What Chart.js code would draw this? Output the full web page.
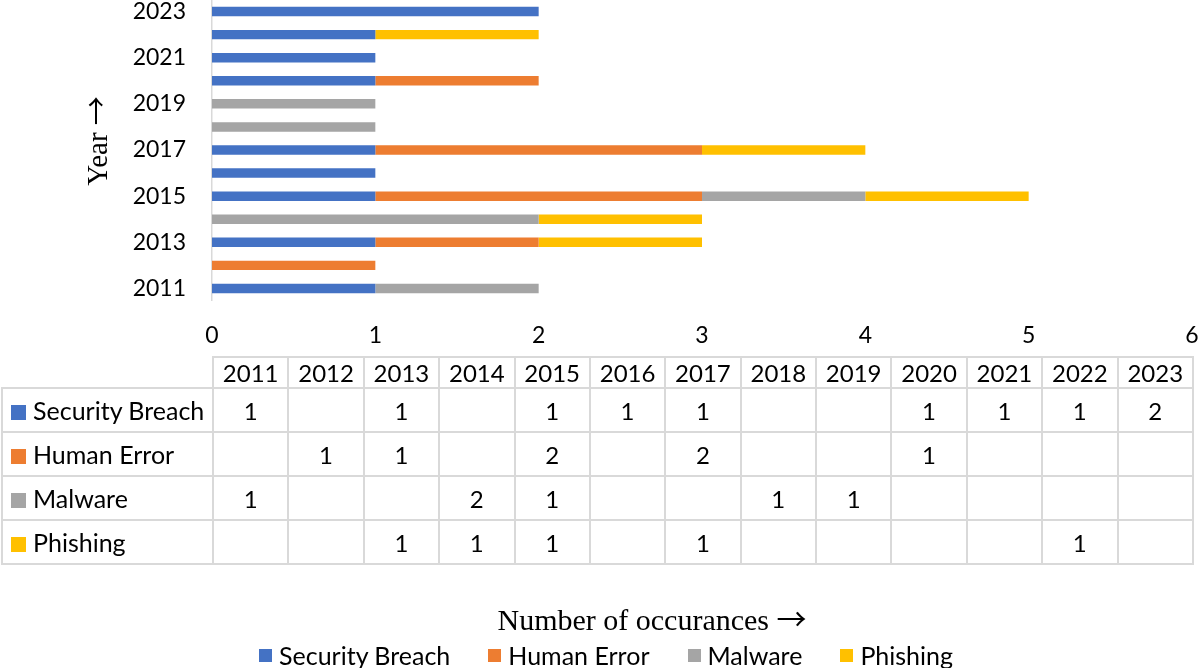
<!DOCTYPE html>
<html>
<head>
<meta charset="utf-8">
<title>Incidents per year</title>
<script src="https://cdn.jsdelivr.net/npm/chart.js@4.4.1/dist/chart.umd.min.js"></script>
<style>
    html, body { margin: 0; padding: 0; background: #fff; }
    #wrap { position: relative; width: 1200px; height: 668px; overflow: hidden; font-family: Lato, 'Noto Sans', sans-serif; color: #000; }
    #chart { position: absolute; left: 0; top: 0; }
    #dataTable { position: absolute; left: 1px; top: 356px; border-collapse: collapse; table-layout: fixed; width: 1193px; font-size: 24px; }
    #dataTable th, #dataTable td { border: 2px solid #d9d9d9; text-align: center; padding: 0; font-weight: normal; }
    #dataTable th { height: 29px; }
    #dataTable td { height: 42px; }
    #dataTable th.corner { border-top: none; border-left: none; }
    #dataTable td.name { text-align: left; padding-left: 8px; white-space: nowrap; font-size: 25px; }
    .key { display: inline-block; width: 15px; height: 15px; margin-right: 7px; vertical-align: 0px; }
    .axisTitle { position: absolute; text-align: center; font-family: 'Liberation Serif', 'DejaVu Serif', serif; white-space: nowrap; }
    .axisTitle .arrow { font-family: 'Noto Sans CJK JP', 'DejaVu Sans', sans-serif; }
    #xTitle { top: 599px; left: 452px; width: 400px; font-size: 30px; line-height: 36px; }
    #yTitle { left: 34px; top: 123px; width: 120px; height: 36px; font-size: 29px; line-height: 36px; transform: rotate(-90deg); }
    #legend { position: absolute; top: 640px; left: 0; width: 1212px; display: flex; justify-content: center; gap: 38px; font-size: 25px; line-height: 30px; }
    #legend span.item { display: flex; align-items: center; }
    #legend .key { width: 13px; height: 13px; margin-right: 7px; }
</style>
</head>
<body>
<div id="wrap">
    <canvas id="chart" width="1200" height="668"></canvas>
    <table id="dataTable"></table>
    <div id="yTitle" class="axisTitle">Year <span class="arrow">→</span></div>
    <div id="xTitle" class="axisTitle">Number of occurances <span class="arrow">→</span></div>
    <div id="legend"></div>
</div>
<script>
// Dữ liệu theo năm
const years = ['2011', '2012', '2013', '2014', '2015', '2016', '2017', '2018', '2019', '2020', '2021', '2022', '2023'];
const securityBreach = [1, null, 1, null, 1, 1, 1, null, null, 1, 1, 1, 2];
const humanError = [null, 1, 1, null, 2, null, 2, null, null, 1, null, null, null];
const malware = [1, null, null, 2, 1, null, null, 1, 1, null, null, null, null];
const phishing = [null, null, 1, 1, 1, null, 1, null, null, null, null, 1, null];
const xTicks = [0, 1, 2, 3, 4, 5, 6];

const seriesNames = ['Security Breach', 'Human Error', 'Malware', 'Phishing'];
const seriesColors = ['#4472C4', '#ED7D31', '#A5A5A5', '#FFC000'];
const seriesData = [securityBreach, humanError, malware, phishing];

const tickFont = { family: "Lato, 'Noto Sans', sans-serif", size: 23 };

document.addEventListener('DOMContentLoaded', () => {
    const ctx = document.getElementById('chart').getContext('2d');

    new Chart(ctx, {
        type: 'bar',
        data: {
            labels: years,
            datasets: seriesNames.map((name, i) => ({
                label: name,
                data: seriesData[i],
                backgroundColor: seriesColors[i],
                borderWidth: 0,
                barPercentage: 0.41,
                categoryPercentage: 1
            }))
        },
        options: {
            indexAxis: 'y',
            responsive: false,
            animation: false,
            layout: { padding: { top: 0, right: 8, bottom: 0, left: 0 } },
            scales: {
                x: {
                    stacked: true,
                    min: 0,
                    max: 6,
                    grid: { display: false, drawTicks: false },
                    border: { display: false },
                    afterBuildTicks: (scale) => {
                        scale.ticks = xTicks.map(v => ({ value: v }));
                    },
                    ticks: { font: tickFont, color: '#000', padding: 22 },
                    afterFit: (scale) => {
                        // chừa chỗ cho bảng dữ liệu bên dưới
                        scale.height = 368;
                        scale.paddingLeft = 0;
                        scale.paddingRight = 0;
                    }
                },
                y: {
                    stacked: true,
                    reverse: true,
                    grid: { display: false, drawTicks: false },
                    border: { display: true, color: '#d9d9d9', width: 1.5 },
                    ticks: {
                        font: tickFont,
                        color: '#000',
                        padding: 26,
                        autoSkip: false,
                        // chỉ hiện năm lẻ
                        callback: function(value, index) {
                            return index % 2 === 0 ? years[index] : '';
                        }
                    },
                    afterFit: (scale) => {
                        scale.width = 212;
                        scale.paddingTop = 0;
                        scale.paddingBottom = 0;
                    }
                }
            },
            plugins: {
                legend: { display: false },
                tooltip: { enabled: false }
            }
        }
    });

    // Bảng dữ liệu bên dưới biểu đồ
    const table = document.getElementById('dataTable');
    let html = '<colgroup><col style="width:211px">' + years.map(() => '<col>').join('') + '</colgroup>';
    html += '<tr><th class="corner"></th>' + years.map(y => `<th>${y}</th>`).join('') + '</tr>';
    seriesNames.forEach((name, i) => {
        html += `<tr><td class="name"><span class="key" style="background:${seriesColors[i]}"></span>${name}</td>`;
        html += seriesData[i].map(v => `<td>${v === null ? '' : v}</td>`).join('') + '</tr>';
    });
    table.innerHTML = html;

    // Chú thích
    const legend = document.getElementById('legend');
    legend.innerHTML = seriesNames.map((name, i) =>
        `<span class="item"><span class="key" style="background:${seriesColors[i]}"></span>${name}</span>`
    ).join('');
});
</script>
</body>
</html>
